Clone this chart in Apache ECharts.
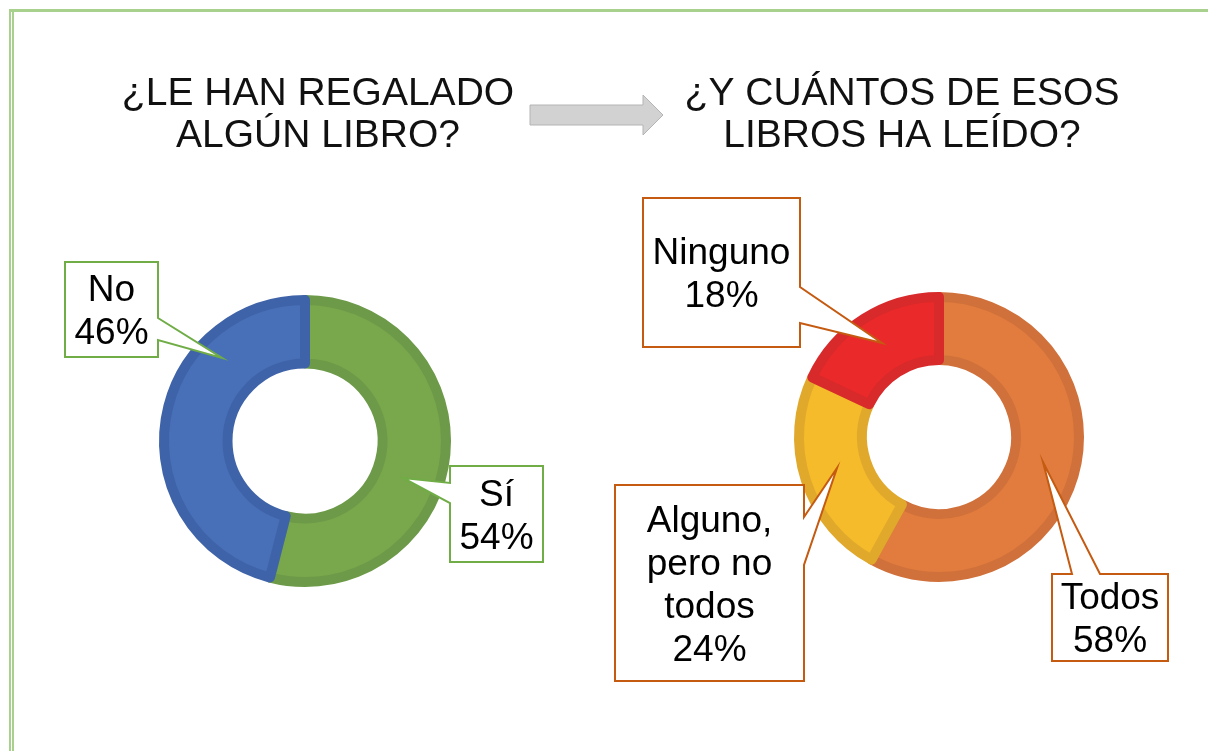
<!DOCTYPE html>
<html>
<head>
<meta charset="utf-8">
<script src="https://cdn.jsdelivr.net/npm/echarts@6/dist/echarts.min.js"></script>
<style>
  html, body { margin: 0; padding: 0; background: #fff; }
  #chart { width: 1208px; height: 751px; }
</style>
</head>
<body>
<div id="chart"></div>
<script>
// ¿Le han regalado algún libro?
const giftNames = ["Sí", "No"];
const giftValues = [54, 46];
const giftColors = ["#79a74c", "#4870b8"];
const giftBorders = ["#6c9a48", "#3f63a8"];

// ¿Y cuántos de esos libros ha leído?
const readNames = ["Todos", "Alguno,\npero no\ntodos", "Ninguno"];
const readValues = [58, 24, 18];
const readColors = ["#e17c3e", "#f5bb2b", "#ea2a2a"];
const readBorders = ["#d0703a", "#e1a92c", "#d8292b"];

const titleLeft = "¿LE HAN REGALADO\nALGÚN LIBRO?";
const titleRight = "¿Y CUÁNTOS DE ESOS\nLIBROS HA LEÍDO?";

const font = "Liberation Sans, Arial, sans-serif";
const chart = echarts.init(document.getElementById("chart"));

// callout box + wedge, box = [x0, y0, x1, y1]
function callout(box, wedge, color, text) {
  const [x0, y0, x1, y1] = box;
  let pts;
  if (wedge.side === "right") {
    pts = [[x0, y0], [x1, y0], [x1, wedge.a], wedge.tip, [x1, wedge.b], [x1, y1], [x0, y1]];
  } else if (wedge.side === "left") {
    pts = [[x0, y0], [x1, y0], [x1, y1], [x0, y1], [x0, wedge.b], wedge.tip, [x0, wedge.a]];
  } else {
    pts = [[x0, y0], [wedge.a, y0], wedge.tip, [wedge.b, y0], [x1, y0], [x1, y1], [x0, y1]];
  }
  return [
    {
      type: "polygon",
      z: 10,
      shape: { points: pts },
      style: { fill: "#fff", stroke: color, lineWidth: 2 }
    },
    {
      type: "text",
      z: 11,
      x: (x0 + x1) / 2,
      y: (y0 + y1) / 2 + 3,
      style: {
        text: text,
        font: "37px " + font,
        fill: "#000",
        align: "center",
        verticalAlign: "middle",
        lineHeight: 43
      }
    }
  ];
}

const label = (names, values, i) => names[i] + "\n" + values[i] + "%";

const graphics = [
  // page border
  { type: "rect", shape: { x: 9, y: 9, width: 1199, height: 3 }, style: { fill: "#a9d18e" } },
  { type: "rect", shape: { x: 9, y: 9, width: 2, height: 742 }, style: { fill: "#a9d18e" } },
  { type: "rect", shape: { x: 12, y: 12, width: 2, height: 739 }, style: { fill: "#a9d18e" } },
  // titles
  {
    type: "text", x: 318, y: 115,
    style: { text: titleLeft, font: "39px " + font, fill: "#111", align: "center", verticalAlign: "middle", lineHeight: 42 }
  },
  {
    type: "text", x: 902, y: 115,
    style: { text: titleRight, font: "39px " + font, fill: "#111", align: "center", verticalAlign: "middle", lineHeight: 42 }
  },
  // arrow
  {
    type: "polygon",
    shape: { points: [[530, 105], [643, 105], [643, 95], [663, 115], [643, 135], [643, 125], [530, 125]] },
    style: { fill: "#d2d2d2", stroke: "#b4b4b4", lineWidth: 1 }
  },
  ...callout([65, 262, 158, 357], { side: "right", a: 318, b: 340, tip: [222, 358] }, "#70ad47", label(giftNames, giftValues, 1)),
  ...callout([450, 466, 543, 562], { side: "left", a: 483, b: 503, tip: [403, 478] }, "#70ad47", label(giftNames, giftValues, 0)),
  ...callout([643, 198, 800, 347], { side: "right", a: 287, b: 323, tip: [882, 343] }, "#c55a11", label(readNames, readValues, 2)),
  ...callout([615, 485, 804, 681], { side: "right", a: 517, b: 565, tip: [837, 468] }, "#c55a11", label(readNames, readValues, 1)),
  ...callout([1052, 574, 1168, 661], { side: "top", a: 1072, b: 1100, tip: [1043, 462] }, "#c55a11", label(readNames, readValues, 0))
];

chart.setOption({
  backgroundColor: "#fff",
  animation: false,
  graphic: graphics,
  series: [
    {
      type: "pie",
      center: [305, 441],
      radius: [77.5, 141],
      startAngle: 90,
      clockwise: true,
      label: { show: false },
      labelLine: { show: false },
      emphasis: { disabled: true },
      data: giftNames.map((n, i) => ({
        name: n,
        value: giftValues[i],
        itemStyle: { color: giftColors[i], borderColor: giftBorders[i], borderWidth: 10 }
      }))
    },
    {
      type: "pie",
      center: [939, 437],
      radius: [77, 140],
      startAngle: 90,
      clockwise: true,
      label: { show: false },
      labelLine: { show: false },
      emphasis: { disabled: true },
      data: readNames.map((n, i) => ({
        name: n,
        value: readValues[i],
        itemStyle: { color: readColors[i], borderColor: readBorders[i], borderWidth: 10 }
      }))
    }
  ]
});

window.addEventListener("resize", () => chart.resize());
</script>
</body>
</html>
